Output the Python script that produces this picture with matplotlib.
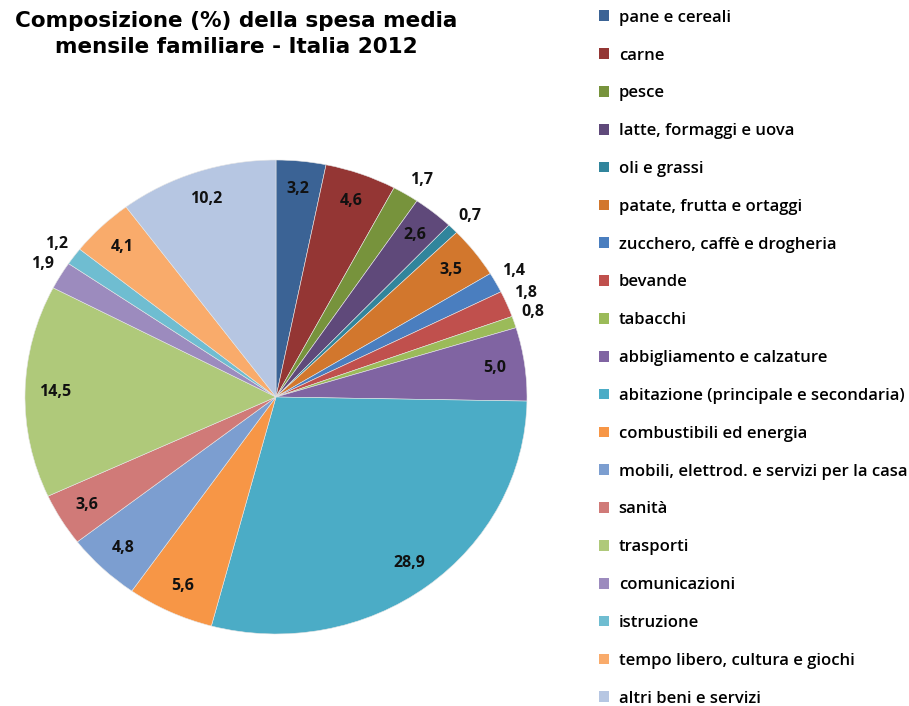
import matplotlib.pyplot as plt
from matplotlib.patches import Patch
import numpy as np

categories = ["pane e cereali", "carne", "pesce", "latte, formaggi e uova",
              "oli e grassi", "patate, frutta e ortaggi", "zucchero, caffè e drogheria",
              "bevande", "tabacchi", "abbigliamento e calzature",
              "abitazione (principale e secondaria)", "combustibili ed energia",
              "mobili, elettrod. e servizi per la casa", "sanità", "trasporti",
              "comunicazioni", "istruzione", "tempo libero, cultura e giochi",
              "altri beni e servizi"]
values = [3.2, 4.6, 1.7, 2.6, 0.7, 3.5, 1.4, 1.8, 0.8, 5.0,
          28.9, 5.6, 4.8, 3.6, 14.5, 1.9, 1.2, 4.1, 10.2]
colors = ["#3B6395", "#943634", "#77933C", "#5F497A", "#31859C", "#D2772D",
          "#4A7EBF", "#C0504D", "#9BBB59", "#8064A2", "#4BACC6", "#F79646",
          "#7C9ED0", "#D07A78", "#AFC97A", "#9C8BBE", "#6FBDD1", "#F9AB6B",
          "#B6C6E2"]

W, H = 909, 706
fig = plt.figure(figsize=(W / 100, H / 100), dpi=100)

# pie is slightly wider than tall in the original
ax = fig.add_axes([25 / W, (H - 634) / H, 502 / W, 474 / H])
wedges, _ = ax.pie(values, colors=colors, startangle=90, counterclock=False,
                   wedgeprops=dict(linewidth=0.4, edgecolor="#e6e6e6"))
ax.set_aspect("auto")
ax.set_xlim(-1, 1)
ax.set_ylim(-1, 1)

lab_font = dict(family="Open Sans", fontweight="bold", fontsize=11.5, color="#111111")
for w, v in zip(wedges, values):
    a = np.deg2rad((w.theta1 + w.theta2) / 2)
    c, s = np.cos(a), np.sin(a)
    txt = f"{v:.1f}".replace(".", ",")
    if v < 2:
        # small slices: label just outside the rim
        ax.text(1.03 * c, 1.03 * s, txt, ha="left" if c > 0 else "right",
                va="bottom" if s > 0 else "top", **lab_font)
    else:
        ax.text(0.88 * c, 0.88 * s, txt, ha="center", va="center", **lab_font)

fig.text(236 / W, 1 - 11 / H, "Composizione (%) della spesa media\nmensile familiare - Italia 2012",
         ha="center", va="top", fontsize=15.5, fontweight="bold", family="DejaVu Sans",
         linespacing=1.38)

handles = [Patch(facecolor=c, edgecolor="none") for c in colors]
fig.legend(handles, categories, loc="upper left", bbox_to_anchor=(592 / W, 1 - 3 / H),
           frameon=False, prop=dict(family="Open Sans", size=12, weight="semibold"),
           handlelength=0.6, handleheight=0.6, handletextpad=0.6,
           labelspacing=1.31, borderaxespad=0)

fig.savefig("out.png", dpi=100)
